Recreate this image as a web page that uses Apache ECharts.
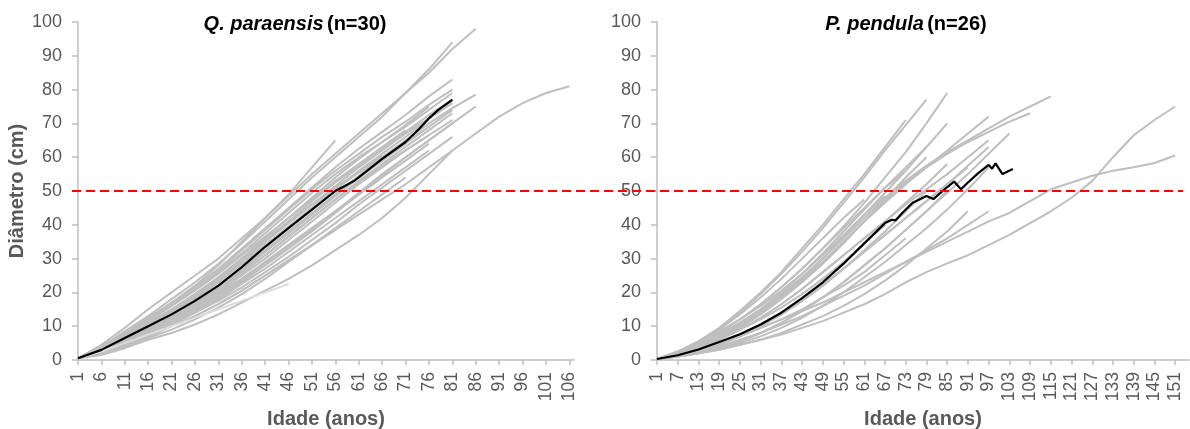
<!DOCTYPE html>
<html>
<head>
<meta charset="utf-8">
<script src="https://cdn.jsdelivr.net/npm/echarts@6/dist/echarts.min.js"></script>
<style>
html,body{margin:0;padding:0;background:#fff;}
#chart{width:1190px;height:429px;}
</style>
</head>
<body>
<div id="chart"></div>
<script>
// ---------- DATA ----------
// Q. paraensis: ages 1..107 (categories); each tree sampled every 5 years starting at age 1
const qpAges = Array.from({length:107}, (_, i) => String(i + 1));
const qpStep = 5;
const qpTrees = [
  [0.5,4.5,9.5,15,20,25,30,36,42,48.5,55,61,67,73,79,85,92,98],
  [0.5,4,8.5,13,18,23,28.5,34.5,41,47.5,54,60,66,72,79,86,94],
  [0.5,4,8,12,16.5,21.5,27,33,39,45,51,57,62.5,67.5,72.5,78,83],
  [0.5,4,8,12.5,17,22,28,35,42,49,57,65],
  [0.5,3.5,7.5,11.5,16,21,26.5,32.5,38.5,44.5,50.5,56,61,66,70.5,75.5,80],
  [0.5,4,8,12,16.5,21,26,31.5,37.5,43.5,49.5,55,60,64.5,69,74,79],
  [0.5,3.5,7,11,15,19.5,24.5,30,36,42,48,54,59.5,64.5,69.5,75],
  [0.5,3,6.5,10,14,18.5,23.5,29,35,41,47,52.5,57.5,62.5,67.5,72.5,77],
  [0.5,3,6,9.5,13,17,22,27,32.5,38,43.5,49,54.5,60,65,70,74.5,78.5],
  [0.5,3.5,7,10.5,14.5,19,24,29.5,35,40.5,46,51.5,57,62,67,71.5,76],
  [0.5,3,6.5,10,14,18,23,28.5,34,39.5,45,50.5,56,61,66,71],
  [0.5,3,6,9,12.5,16.5,21,26.5,32,37.5,43,48.5,54,59,64,69,74],
  [0.5,3.5,7,11,15,19.5,24.5,30,35.5,41,46,51,55.5,60,64.5,69],
  [0.5,4,8,12,16,20.5,25.5,31,36.5,42,47.5,53,58,63,68],
  [0.5,2.5,5.5,8.5,12,16,20.5,25.5,31,36.5,42,47.5,53,58,63,68,73],
  [0.5,3.5,7,10.5,14.5,18.5,23,28.5,34,39.5,45,50.5,55.5,60.5],
  [0.5,3,6,9,12.5,16.5,21,26,31,36.5,42,47.5,52.5,57.5,62,66.5],
  [0.5,2.5,5,8,11.5,15.5,20,25,30,35.5,41,46.5,52,57,62,66.5,71],
  [0.5,3,6,9.5,13,17,21.5,26.5,32,37.5,43,48.5,54,59,64],
  [0.5,2.5,5,8,11,14.5,18.5,23,28,33,38,43.5,49,54.5,60,65,70,75],
  [0.5,2,4.5,7,10,13,16.5,20.5,25,29.5,34,38.5,43,47.5,52,57,62,67,72,76,79,81],
  [0.5,1.5,3.5,6,8,10.5,13.5,17,20.5,24,28,32.5,37,42,48,55,62],
  [0.5,2.5,5,7.5,10.5,14,18,22.5,27,32,37,42,47,52,57,62],
  [0.5,2.5,5,7.5,10.5,14,17.5,21.5,26,30.5,35.5,40.5,46,51,56,61,66],
  [0.5,2,4.5,7,10,13,16.5,20.5,25,29.5,34,39,44,49,54],
  [0.5,2,4,6.5,9,12,15.5,19.5,24,29,34,38.5],
  [0.5,3,6,9,12,15.5,19.5,24,29,34,39,44,49,54,59,64],
  [0.5,2.5,5.5,8.5,12,15.5,19.5,24,29,34,39,44,49,54],
  [0.5,3,5.5,8.5,11.5,15,19,23.5,28.5,33.5,38.5,44,49.5,55,60,65,70]
];
const qpShortTree = [0.5,2.5,5,7.5,10,12.5,15,17.5,20,22.5];
// mean curve: [age, diameter]
const qpMean = [[1,0.5],[6,3],[11,6.5],[16,10],[21,13.5],[26,17.5],[31,22],[36,27.5],[41,33.5],[46,39],[51,44.5],[56,50],[58,51.5],[60,53],[61,54],[66,59.5],[71,64.5],[74,68.5],[76,71.5],[78,74],[81,77]];

// P. pendula: ages 1..155 (categories); each tree sampled every 6 years starting at age 1
const ppAges = Array.from({length:155}, (_, i) => String(i + 1));
const ppStep = 6;
const ppTrees = [
  [0.3,2,5,9,14,19.5,25.5,32,39,46.5,54,62,69.5,77],
  [0.3,2.5,5.5,9.5,14.5,20,26,33,40,47.5,55,63,71],
  [0.3,2,4.5,8,12,16.5,21.5,27,33,39.5,46.5,54,61.5,70,79],
  [0.3,1.5,3.5,6.5,10,14,18.5,23.5,29,35,41,47,52.5,57,61,64.5,67.5,70.5,73],
  [0.3,2,4.5,7.5,11,15,19.5,24.5,30,36,42,48,53,57.5,61.5,65,68.5,72,75,78],
  [0.3,1,2,3,4.5,6,7.5,9.5,11.5,14,16.5,19.5,23,26,28.6,31,34,37,40.5,44,48,53,60,66.5,71,75],
  [0.3,1.5,3,5,7,9.5,12,14.5,17,20,23,26,29,32,35,38,41,43.5,47,50.5,52.5,54.5,56,57,58.3,60.5],
  [0.3,1,2.5,4,6,8,10.5,13,16,19,22,25.5,29,32.5,36,40,44],
  [0.3,1.5,3.5,6.5,10,14,18.5,23.5,29,35,41,46.5,52,57,62,67,72],
  [0.3,1.5,3.5,6,9,12.5,16.5,21,26,31,36,41,46,50.5,55,60,65],
  [0.3,1,2.5,4.5,7,10,13.5,17.5,22,27,32,37,42,47,52,57.5,63],
  [0.3,2,4.5,7.5,11,15,20,25.5,31.5,38,44.5,51,57,63],
  [0.3,1.5,3.5,6,9.5,13.5,18,23,28.5,34.5,41,47.5,54,60],
  [0.3,1.5,3.5,6,9,12.5,16.5,21,26,31,36,41,46.5,52,58],
  [0.3,1.5,3,5,7.5,10.5,14,18,22.5,27,32,37,42,47,52,57],
  [0.3,2,4.5,8,12,16.5,21.5,27,33,39,45,51,56],
  [0.3,2,5,8.5,12,16,20.5,25.5,31,37,43,48.5],
  [0.3,1,2.5,4.5,7,10,13.5,17.5,22,27,32.5,38,44,50],
  [0.3,1,2,3.5,5.5,8,11,14.5,18.5,23,28,33,38.5,44,50],
  [0.3,1,2,3.5,5,7,9.5,12.5,16,20,24.5,29,34,39,44.5,50.5,57],
  [0.3,1,2,3,4.5,6,8,10.5,13,16,19.5,23.5,28,33,38,44],
  [0.3,1.5,3,5,7,9.5,12,15,18.5,22,26,31,36],
  [0.3,1.5,3.5,6,9,12,15.5,19.5,24,29,34.5,40],
  [0.3,1,2,3.5,5.5,8,11,14.5,18.5,23,28,33,38.5,44,49.5,55,61,67],
  [0.3,2.5,5.5,9,13.5,18.5,24,30,36,42,47.5],
  [0.3,2,4,7,10.5,14.5,19,24,30,36.5,43,49.5,56,63,70]
];
const ppMean = [[1,0.3],[7,1.4],[13,3.1],[19,5.3],[25,7.6],[31,10.5],[37,14],[43,18.3],[49,23],[55,28.5],[61,34.5],[67,40.5],[69,41.5],[70,41.3],[72,43.5],[75,46.5],[77,47.5],[79,48.5],[81,47.6],[82,48.5],[84,50.3],[87,52.8],[89,50.5],[91,52.5],[94,55.3],[97,57.7],[98,56.6],[99,58.2],[101,55],[104,56.5]];

const refLevel = 50;

// ---------- CHART ----------
const FONT = '"Liberation Sans", Arial, sans-serif';
const AXIS_GRAY = '#BFBFBF';
const LABEL_GRAY = '#595959';
const LINE_GRAY = '#BFBFBF';

function sampled(vals, step) { return vals.map((v, i) => [i * step, v]); }
function byAge(pairs) { return pairs.map(p => [p[0] - 1, p[1]]); }

function xAxisCfg(gi, cats, every) {
  return {
    type: 'category', gridIndex: gi, data: cats, boundaryGap: false,
    axisLine: {lineStyle: {color: AXIS_GRAY, width: 1.5}},
    axisTick: {interval: every - 1, length: 5, lineStyle: {color: AXIS_GRAY, width: 1.5}},
    axisLabel: {interval: every - 1, rotate: 90, color: LABEL_GRAY, fontSize: 17.5, fontFamily: FONT, margin: 12},
    name: 'Idade (anos)', nameLocation: 'middle', nameGap: 49,
    nameTextStyle: {color: LABEL_GRAY, fontSize: 20, fontWeight: 'bold', fontFamily: FONT}
  };
}
function yAxisCfg(gi, withName) {
  const c = {
    type: 'value', gridIndex: gi, min: 0, max: 100, interval: 10,
    axisLine: {show: true, lineStyle: {color: AXIS_GRAY, width: 1.5}},
    axisTick: {show: true, length: 6, lineStyle: {color: AXIS_GRAY, width: 1.5}},
    splitLine: {show: false},
    axisLabel: {color: LABEL_GRAY, fontSize: 18, fontFamily: FONT, margin: 16}
  };
  if (withName) {
    c.name = 'Diâmetro (cm)'; c.nameLocation = 'middle'; c.nameGap = 51;
    c.nameTextStyle = {color: LABEL_GRAY, fontSize: 20, fontWeight: 'bold', fontFamily: FONT};
  }
  return c;
}

const series = [];
function lineSeries(gi, data, color, width, z) {
  return {type: 'line', xAxisIndex: gi, yAxisIndex: gi, data: data, showSymbol: false, symbol: 'none',
          lineStyle: {color: color, width: width}, z: z, silent: true};
}
qpTrees.forEach(t => series.push(lineSeries(0, sampled(t, qpStep), LINE_GRAY, 2, 2)));
series.push(lineSeries(0, sampled(qpShortTree, qpStep), '#DCDCDC', 2, 2));
series.push(lineSeries(0, byAge(qpMean), '#000000', 2.2, 3));
ppTrees.forEach(t => series.push(lineSeries(1, sampled(t, ppStep), LINE_GRAY, 2, 2)));
series.push(lineSeries(1, byAge(ppMean), '#000000', 2.2, 3));
series.push({type: 'line', xAxisIndex: 2, yAxisIndex: 2, data: [[0, refLevel], [1, refLevel]], symbol: 'none',
             lineStyle: {color: '#FF0000', width: 2, type: [9, 5]}, z: 5, silent: true});

const chart = echarts.init(document.getElementById('chart'), null, {renderer: 'canvas'});
chart.setOption({
  animation: false,
  backgroundColor: '#ffffff',
  grid: [
    {left: 78, right: 616, top: 22, bottom: 69, containLabel: false, outerBoundsMode: 'none'},
    {left: 657, right: 1, top: 22, bottom: 69, containLabel: false, outerBoundsMode: 'none'},
    {left: 72, right: 7, top: 22, bottom: 69, containLabel: false, outerBoundsMode: 'none'}
  ],
  xAxis: [
    xAxisCfg(0, qpAges, 5),
    xAxisCfg(1, ppAges, 6),
    {type: 'value', gridIndex: 2, min: 0, max: 1, show: false}
  ],
  yAxis: [
    yAxisCfg(0, true),
    yAxisCfg(1, false),
    {type: 'value', gridIndex: 2, min: 0, max: 100, show: false}
  ],
  graphic: [
    {type: 'text', x: 295, y: 24, z: 10, style: {
      text: '{i|Q. paraensis} {b|(n=30)}', align: 'center', verticalAlign: 'middle',
      rich: {i: {fontStyle: 'italic', fontWeight: 'bold', fontSize: 20, fontFamily: FONT, fill: '#000'},
             b: {fontWeight: 'bold', fontSize: 20, fontFamily: FONT, fill: '#000'}}}},
    {type: 'text', x: 906, y: 24, z: 10, style: {
      text: '{i|P. pendula} {b|(n=26)}', align: 'center', verticalAlign: 'middle',
      rich: {i: {fontStyle: 'italic', fontWeight: 'bold', fontSize: 20, fontFamily: FONT, fill: '#000'},
             b: {fontWeight: 'bold', fontSize: 20, fontFamily: FONT, fill: '#000'}}}}
  ],
  series: series
});
</script>
</body>
</html>
